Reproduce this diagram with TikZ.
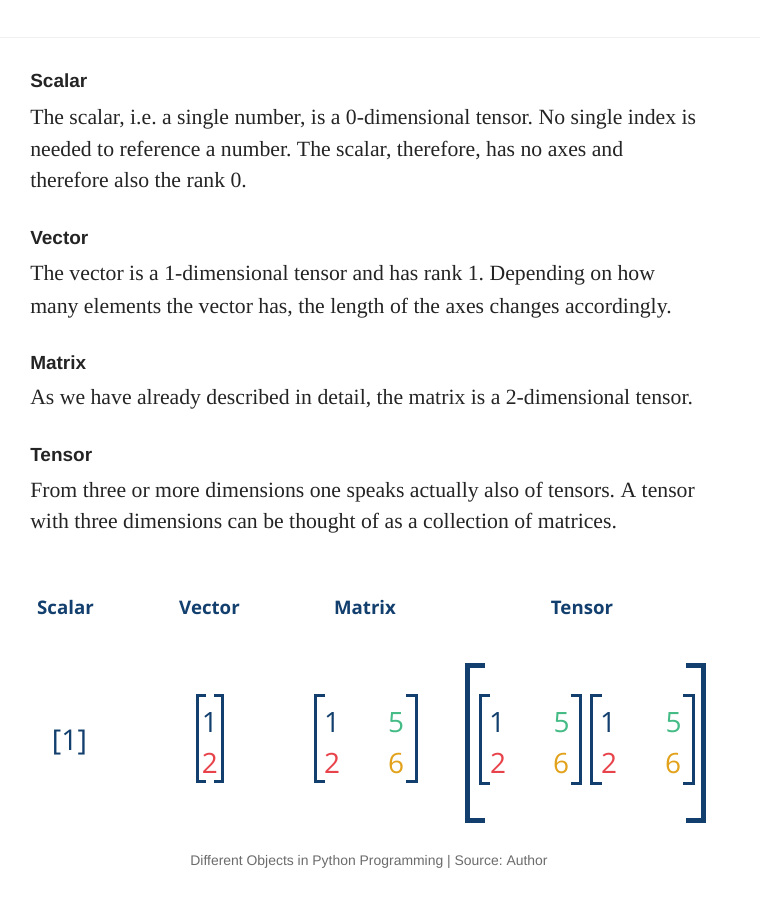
\documentclass[tikz,border=0pt]{standalone}
\usepackage{fontspec}
\setmainfont{Liberation Serif}
\newfontfamily\headfont{Liberation Sans}
\newfontfamily\figfont{Open Sans}
\usetikzlibrary{positioning}
\frenchspacing
\definecolor{inkgray}{HTML}{242424}
\definecolor{navy}{HTML}{123F6D}
\definecolor{numred}{HTML}{E8434B}
\definecolor{numgreen}{HTML}{45BB86}
\definecolor{numorange}{HTML}{E2A21C}

\begin{document}
\begin{tikzpicture}[
    x=0.75pt, y=-0.75pt,
    heading/.style={
        anchor=base west, inner sep=0pt, text=inkgray,
        font=\headfont\bfseries\fontsize{14.25}{17}\selectfont
      },
    bodyline/.style={
        anchor=base west, inner sep=0pt, text=inkgray,
        font=\fontsize{16.3}{19}\selectfont
      },
    figlabel/.style={
        anchor=base, inner sep=0pt, text=navy,
        font=\figfont\bfseries\fontsize{14}{17}\selectfont
      },
    entry/.style={
        anchor=base, inner sep=0pt,
        font=\figfont\fontsize{21}{25}\selectfont
      },
    bracket/.style={draw=navy, line width=2.25pt, line join=miter},
    bigbracket/.style={draw=navy, line width=3.75pt, line join=miter},
  ]
  \useasboundingbox (0,0) rectangle (760,898);
  \draw[black!6, line width=0.75pt] (0,38) -- (760,38);

  % text part
  \node[heading](hscalar) at (30,88) {Scalar};
  \node[bodyline](ts1) at (30,125) {The scalar, i.e. a single number, is a 0-dimensional tensor. No single index is};
  \node[bodyline](ts2) at (30,157) {needed to reference a number. The scalar, therefore, has no axes and};
  \node[bodyline](ts3) at (30,188) {therefore also the rank 0.};
  \node[heading](hvector) at (30,245) {Vector};
  \node[bodyline](tv1) at (30,281) {The vector is a 1-dimensional tensor and has rank 1. Depending on how};
  \node[bodyline](tv2) at (30,313) {many elements the vector has, the length of the axes changes accordingly.};
  \node[heading](hmatrix) at (30,369) {Matrix};
  \node[bodyline](tm1) at (30,404) {As we have already described in detail, the matrix is a 2-dimensional tensor.};
  \node[heading](htensor) at (30,461) {Tensor};
  \node[bodyline](tt1) at (30,497) {From three or more dimensions one speaks actually also of tensors. A tensor};
  \node[bodyline](tt2) at (30,528) {with three dimensions can be thought of as a collection of matrices.};

  % figure labels
  \node[figlabel](lscalar) at (65.5,614) {Scalar};
  \node[figlabel](lvector) at (209.5,614) {Vector};
  \node[figlabel](lmatrix) at (365,614) {Matrix};
  \node[figlabel](ltensor) at (582,614) {Tensor};

  % scalar
  \node[anchor=base, inner sep=0pt, text=navy, font=\figfont\fontsize{21.5}{25}\selectfont](sc) at (69.5,750) {[1]};

  % vector
  \node[entry, text=navy](v1) at (210,732) {1};
  \node[entry, text=numred](v2) at (210,773) {2};
  \draw[bracket] (206,695) -- (197.5,695) -- (197.5,781) -- (206,781);
  \draw[bracket] (214,695) -- (222.5,695) -- (222.5,781) -- (214,781);

  % matrix
  \node[entry, text=navy](m11) at (332,732) {1};
  \node[entry, text=numred](m21) at (332,773) {2};
  \node[entry, text=numgreen](m12) at (396,732) {5};
  \node[entry, text=numorange](m22) at (396,773) {6};
  \draw[bracket] (325,695) -- (315,695) -- (315,781) -- (325,781);
  \draw[bracket] (406,695) -- (416,695) -- (416,781) -- (406,781);

  % tensor
  \node[entry, text=navy](ta11) at (497,732) {1};
  \node[entry, text=numred](ta21) at (498,773) {2};
  \node[entry, text=numgreen](ta12) at (561.5,732) {5};
  \node[entry, text=numorange](ta22) at (561,773) {6};
  \node[entry, text=navy](tb11) at (608,732) {1};
  \node[entry, text=numred](tb21) at (609,773) {2};
  \node[entry, text=numgreen](tb12) at (673.5,732) {5};
  \node[entry, text=numorange](tb22) at (673,773) {6};
  \draw[bracket] (490,695) -- (480.5,695) -- (480.5,783) -- (490,783);
  \draw[bracket] (570.5,695) -- (580.5,695) -- (580.5,783) -- (570.5,783);
  \draw[bracket] (601.5,695) -- (591.5,695) -- (591.5,783) -- (601.5,783);
  \draw[bracket] (683,695) -- (693,695) -- (693,783) -- (683,783);
  \draw[bigbracket] (485,665.5) -- (467.5,665.5) -- (467.5,820) -- (485,820);
  \draw[bigbracket] (686,665.5) -- (703.5,665.5) -- (703.5,820) -- (686,820);

  \node[anchor=base, inner sep=0pt, text=black!58, font=\headfont\fontsize{10.45}{12}\selectfont](caption) at (369,865)
    {Different Objects in Python Programming | Source: Author};
\end{tikzpicture}
\end{document}
